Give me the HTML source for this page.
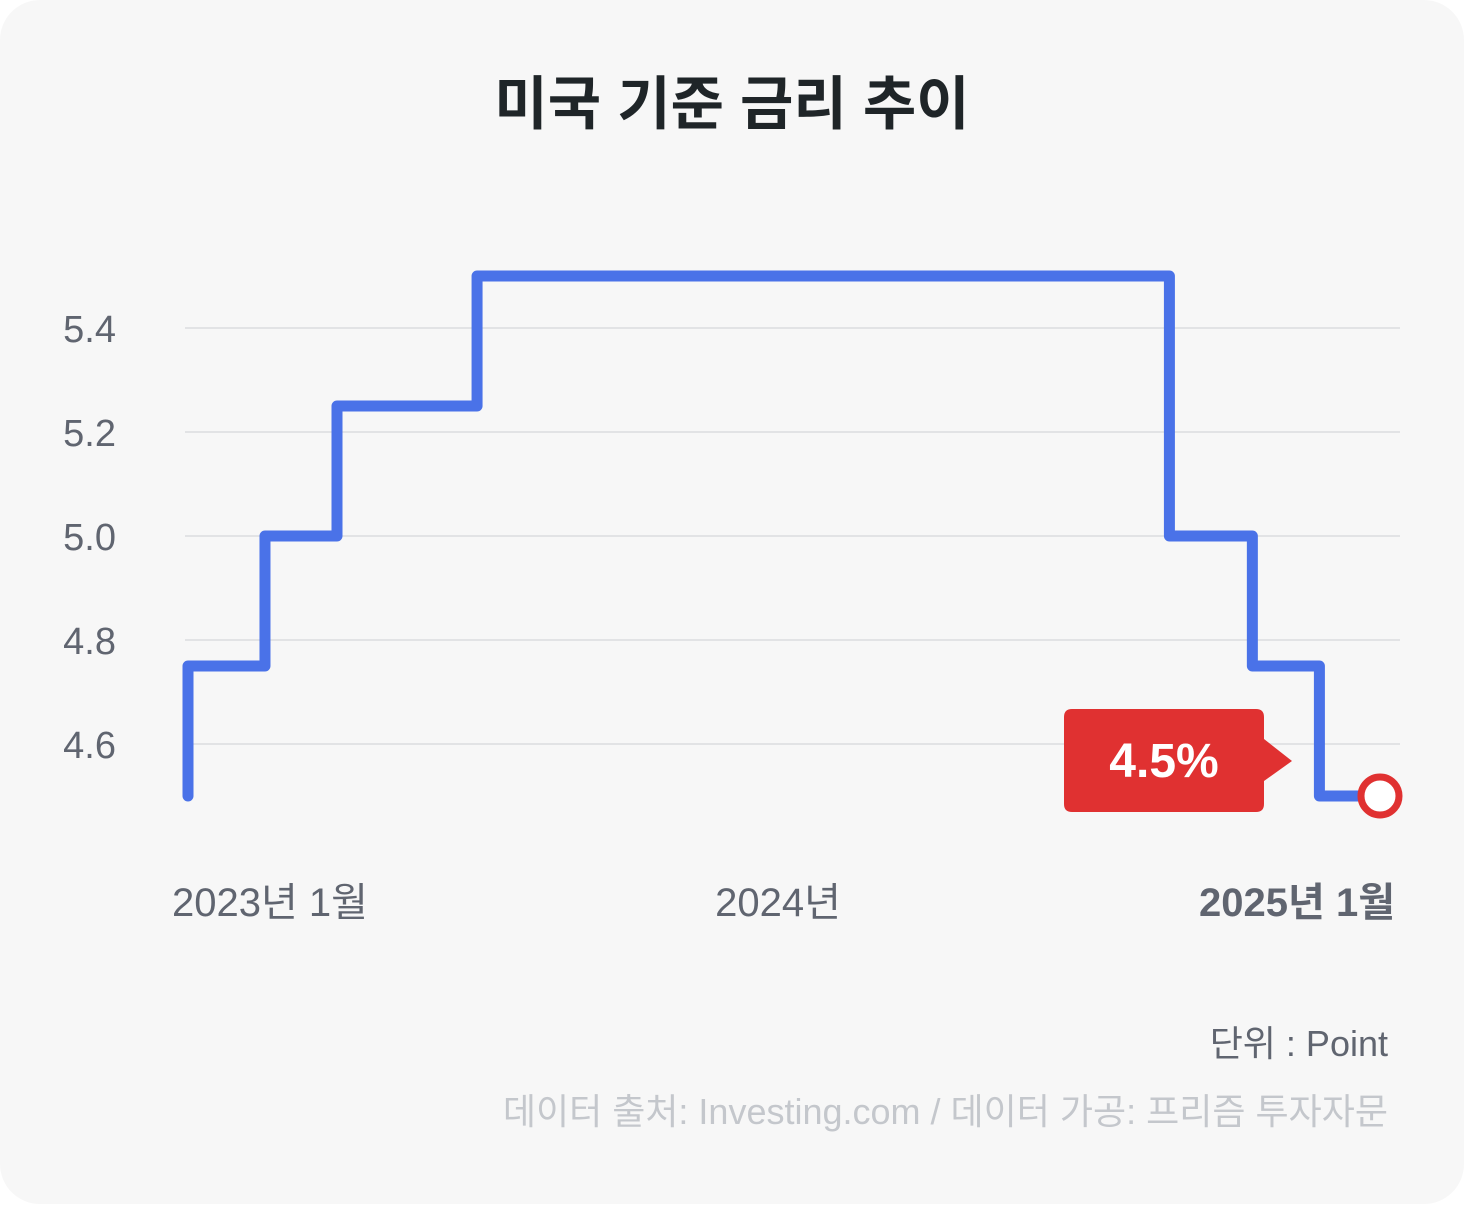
<!DOCTYPE html>
<html><head><meta charset="utf-8"><style>
html,body{margin:0;padding:0;background:#fff;}
body{width:1484px;height:1204px;overflow:hidden;font-family:"Liberation Sans","Noto Sans CJK KR",sans-serif;}
#card{position:absolute;left:0;top:0;width:1464px;height:1204px;background:#f7f7f7;border-radius:40px;}
</style></head><body>
<div id="card">
<svg width="1484" height="1204">
<text x="732" y="124" text-anchor="middle" font-size="58" font-weight="bold" fill="#1f2528">미국 기준 금리 추이</text>
<g id="grid"></g>
<g id="line"></g>
<text x="270" y="916" text-anchor="middle" font-size="40" fill="#606570">2023년 1월</text>
<text x="778" y="916" text-anchor="middle" font-size="40" fill="#606570">2024년</text>
<text x="1395" y="916" text-anchor="end" font-size="40" font-weight="bold" fill="#606570">2025년 1월</text>
<text x="1388" y="1056" text-anchor="end" font-size="36" fill="#606570">단위 : Point</text>
<text x="1388" y="1124" text-anchor="end" font-size="36" fill="#c4c7cc">데이터 출처: Investing.com / 데이터 가공: 프리즘 투자자문</text>
</svg>
</div>
<script>
const steps = [0, 0, 1.55, 3.0, 5.82, 19.76, 21.43, 22.78];
const rates = [4.5, 4.75, 5.0, 5.25, 5.5, 5.0, 4.75, 4.5];
const endX = 24;
const yTicks = [4.6, 4.8, 5.0, 5.2, 5.4];
const yTickLabels = ["4.6", "4.8", "5.0", "5.2", "5.4"];
const lastLabel = "4.5%";

const ns = "http://www.w3.org/2000/svg";
const xs = v => 188 + v * (1380 - 188) / 24;
const ys = v => 328 + (5.4 - v) * 520;
const svg = document.querySelector("svg");
const grid = document.getElementById("grid");
yTicks.forEach((t, i) => {
  const l = document.createElementNS(ns, "line");
  
  
  l.setAttribute("x1", 185); l.setAttribute("x2", 1400);
  l.setAttribute("y1", ys(t)); l.setAttribute("y2", ys(t));
  l.setAttribute("stroke", "#e2e3e5"); l.setAttribute("stroke-width", 2);
  grid.appendChild(l);
  const tx = document.createElementNS(ns, "text");
  
  
  tx.setAttribute("x", 116); tx.setAttribute("y", ys(t) + 14);
  tx.setAttribute("text-anchor", "end"); tx.setAttribute("font-size", 38);
  tx.setAttribute("fill", "#606570");
  tx.textContent = yTickLabels[i];
  grid.appendChild(tx);
});
let d = "";
steps.forEach((s, i) => {
  if (i === 0) d += "M" + xs(s) + " " + ys(rates[i]);
  else d += " L" + xs(s) + " " + ys(rates[i - 1]) + " L" + xs(s) + " " + ys(rates[i]);
});
d += " L" + xs(endX) + " " + ys(rates[rates.length - 1]);
const p = document.createElementNS(ns, "path");


p.setAttribute("d", d);
p.setAttribute("fill", "none"); p.setAttribute("stroke", "#4a72e8");
p.setAttribute("stroke-width", 11); p.setAttribute("stroke-linejoin", "round"); p.setAttribute("stroke-linecap", "round");
document.getElementById("line").appendChild(p);
const ex = xs(endX), ey = ys(rates[rates.length - 1]);
const c = document.createElementNS(ns, "circle");


c.setAttribute("cx", ex); c.setAttribute("cy", ey); c.setAttribute("r", 19);
c.setAttribute("fill", "#fff"); c.setAttribute("stroke", "#e03131"); c.setAttribute("stroke-width", 7);
svg.appendChild(c);
const bx = ex - 316, by = ey - 87;
const b = document.createElementNS(ns, "path");


b.setAttribute("d", `M${bx+8} ${by} H${bx+192} Q${bx+200} ${by} ${bx+200} ${by+8} V${by+30} L${bx+228} ${by+52} L${bx+200} ${by+72} V${by+95} Q${bx+200} ${by+103} ${bx+192} ${by+103} H${bx+8} Q${bx} ${by+103} ${bx} ${by+95} V${by+8} Q${bx} ${by} ${bx+8} ${by}Z`);
b.setAttribute("fill", "#e03131");
svg.appendChild(b);
const bt = document.createElementNS(ns, "text");


bt.setAttribute("x", bx + 100); bt.setAttribute("y", by + 68);
bt.setAttribute("text-anchor", "middle"); bt.setAttribute("font-size", 48);
bt.setAttribute("font-weight", "bold"); bt.setAttribute("fill", "#fff");
bt.textContent = lastLabel;
svg.appendChild(bt);
</script>
</body></html>
